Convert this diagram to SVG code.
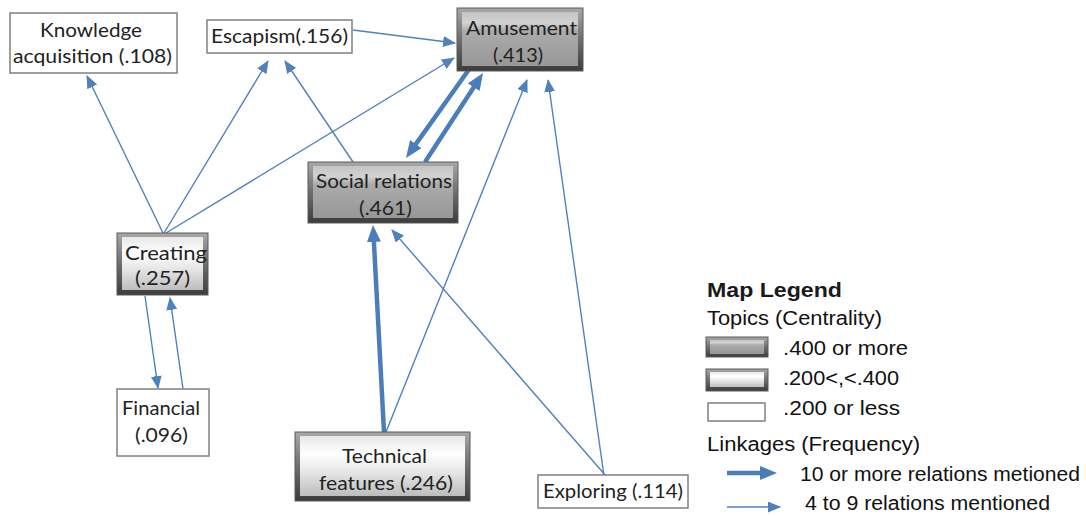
<svg xmlns="http://www.w3.org/2000/svg" width="1086" height="516" viewBox="0 0 1086 516">
<style>
.lbl { font-family: Lato, "Liberation Sans", sans-serif; font-size: 20px; fill: #222; }
.leg { font-family: "Liberation Sans", Arial, sans-serif; font-size: 20px; fill: #111; }
.legb { font-family: "Liberation Sans", Arial, sans-serif; font-size: 20px; font-weight: bold; fill: #1a1a1a; }
.thin { stroke: #4f81bd; stroke-width: 1.4; fill: none; marker-end: url(#ah); }
.thick { stroke: #4a7ebb; stroke-width: 4.5; fill: none; marker-end: url(#ahT); }
.plain { fill: #fff; stroke: #808080; stroke-width: 1.5; }
.edge { fill: url(#edgeV); stroke: #5a5a5a; stroke-width: 1; }
.faceD { fill: url(#faceDark); }
.faceM { fill: url(#faceMid); }
</style>
<defs>
<linearGradient id="edgeV" x1="0" y1="0" x2="0" y2="1">
<stop offset="0" stop-color="#a8a8a8"/>
<stop offset="0.5" stop-color="#6e6e6e"/>
<stop offset="1" stop-color="#3c3c3c"/>
</linearGradient>
<linearGradient id="faceDark" x1="0" y1="0" x2="0" y2="1">
<stop offset="0" stop-color="#c4c4c4"/>
<stop offset="0.2" stop-color="#d2d2d2"/>
<stop offset="0.35" stop-color="#ababab"/>
<stop offset="1" stop-color="#979797"/>
</linearGradient>
<linearGradient id="faceMid" x1="0" y1="0" x2="0" y2="1">
<stop offset="0" stop-color="#e8e8e8"/>
<stop offset="0.3" stop-color="#ffffff"/>
<stop offset="0.6" stop-color="#e6e6e6"/>
<stop offset="1" stop-color="#bdbdbd"/>
</linearGradient>
<marker id="ah" markerUnits="userSpaceOnUse" markerWidth="13" markerHeight="11" refX="12" refY="5.5" orient="auto">
<path d="M0,0 L13,5.5 L0,11 z" fill="#4f81bd"/>
</marker>
<marker id="ahT" markerUnits="userSpaceOnUse" markerWidth="17" markerHeight="14" refX="4" refY="7" orient="auto">
<path d="M0,0 L17,7 L0,14 z" fill="#4a7ebb"/>
</marker>
</defs>

<g id="connectors">
<line class="thin" x1="163" y1="233" x2="87" y2="76"/>
<line class="thin" x1="164" y1="233" x2="268" y2="61"/>
<line class="thin" x1="353" y1="162" x2="285" y2="61"/>
<line class="thin" x1="166" y1="233" x2="454" y2="58"/>
<line class="thin" x1="353" y1="30" x2="455" y2="43"/>
<line class="thick" x1="470" y1="68" x2="413.5" y2="147.4"/>
<line class="thick" x1="425" y1="162" x2="475.9" y2="83.9"/>
<line class="thick" x1="384" y1="432" x2="373.7" y2="238"/>
<line class="thin" x1="386" y1="432" x2="527" y2="80"/>
<line class="thin" x1="606" y1="476" x2="392" y2="230"/>
<line class="thin" x1="604" y1="476" x2="548" y2="80"/>
<line class="thin" x1="145" y1="296" x2="158" y2="388"/>
<line class="thin" x1="183" y1="389" x2="170" y2="298"/>
</g>

<g id="knowledge">
<rect class="plain" x="10" y="13" width="167" height="60"/>
<text class="lbl" x="40" y="37" textLength="102" lengthAdjust="spacingAndGlyphs">Knowledge</text>
<text class="lbl" x="13" y="63" textLength="159" lengthAdjust="spacingAndGlyphs">acquisition (.108)</text>
</g>

<g id="escapism">
<rect class="plain" x="207" y="20" width="145" height="33"/>
<text class="lbl" x="211" y="43" textLength="137" lengthAdjust="spacingAndGlyphs">Escapism(.156)</text>
</g>

<g id="amusement">
<rect class="edge" x="457" y="8" width="126" height="63"/>
<rect class="faceD" x="462" y="12" width="116" height="54"/>
<text class="lbl" x="466" y="35" textLength="111" lengthAdjust="spacingAndGlyphs">Amusement</text>
<text class="lbl" x="493" y="62" textLength="50" lengthAdjust="spacingAndGlyphs">(.413)</text>
</g>

<g id="social">
<rect class="edge" x="308" y="162" width="150" height="61"/>
<rect class="faceD" x="313" y="166" width="140" height="52"/>
<text class="lbl" x="316" y="188" textLength="136" lengthAdjust="spacingAndGlyphs">Social relations</text>
<text class="lbl" x="359" y="215" textLength="53" lengthAdjust="spacingAndGlyphs">(.461)</text>
</g>

<g id="creating">
<rect class="edge" x="117" y="233" width="91" height="62"/>
<rect class="faceM" x="122" y="237" width="81" height="53"/>
<text class="lbl" x="125" y="260" textLength="82" lengthAdjust="spacingAndGlyphs">Creating</text>
<text class="lbl" x="135" y="285" textLength="55" lengthAdjust="spacingAndGlyphs">(.257)</text>
</g>

<g id="financial">
<rect class="plain" x="117" y="389" width="92" height="67"/>
<text class="lbl" x="122" y="415" textLength="78" lengthAdjust="spacingAndGlyphs">Financial</text>
<text class="lbl" x="135" y="442" textLength="53" lengthAdjust="spacingAndGlyphs">(.096)</text>
</g>

<g id="technical">
<rect class="edge" x="295" y="432" width="175" height="69"/>
<rect class="faceM" x="300" y="436" width="165" height="60"/>
<text class="lbl" x="342" y="463" textLength="85" lengthAdjust="spacingAndGlyphs">Technical</text>
<text class="lbl" x="319" y="490" textLength="134" lengthAdjust="spacingAndGlyphs">features (.246)</text>
</g>

<g id="exploring">
<rect class="plain" x="538" y="475" width="150" height="33"/>
<text class="lbl" x="543" y="498" textLength="140" lengthAdjust="spacingAndGlyphs">Exploring (.114)</text>
</g>

<g id="legend">
<text class="legb" x="707" y="297" textLength="135" lengthAdjust="spacingAndGlyphs">Map Legend</text>
<text class="leg" x="707" y="325" textLength="175" lengthAdjust="spacingAndGlyphs">Topics (Centrality)</text>
<rect class="edge" x="706" y="337" width="62" height="20"/>
<rect class="faceD" x="710" y="340" width="54" height="14"/>
<text class="leg" x="783" y="355" textLength="125" lengthAdjust="spacingAndGlyphs">.400 or more</text>
<rect class="edge" x="706" y="369" width="62" height="22"/>
<rect class="faceM" x="710" y="372" width="54" height="15"/>
<text class="leg" x="783" y="385" textLength="116" lengthAdjust="spacingAndGlyphs">.200&lt;,&lt;.400</text>
<rect class="plain" x="708" y="403" width="57" height="18"/>
<text class="leg" x="783" y="415" textLength="117" lengthAdjust="spacingAndGlyphs">.200 or less</text>
<text class="leg" x="707" y="451" textLength="213" lengthAdjust="spacingAndGlyphs">Linkages (Frequency)</text>
<line class="thick" x1="727" y1="473" x2="764" y2="473"/>
<text class="leg" x="800" y="481" textLength="280" lengthAdjust="spacingAndGlyphs">10 or more relations metioned</text>
<line class="thin" x1="727" y1="507" x2="780" y2="507"/>
<text class="leg" x="805" y="510" textLength="245" lengthAdjust="spacingAndGlyphs">4 to 9 relations mentioned</text>
</g>
</svg>
